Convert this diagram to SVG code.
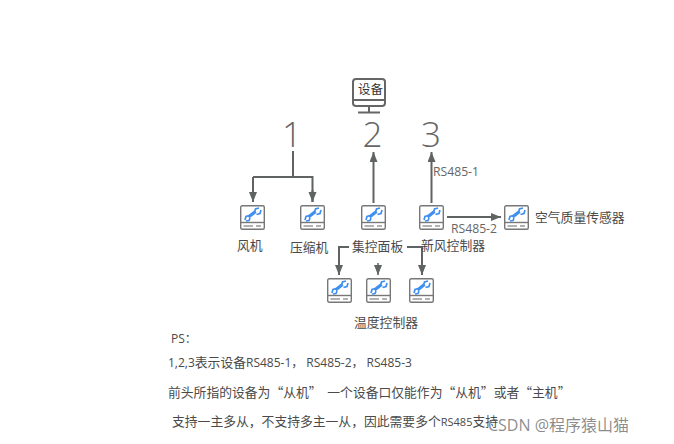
<svg xmlns="http://www.w3.org/2000/svg" width="674" height="444" viewBox="0 0 674 444">
<style>
text{font-family:"Open Sans","Noto Sans CJK SC",sans-serif;fill:#4a4a4a;font-size:12.800px}
.n{font-size:35px;font-weight:300;fill:#666;text-anchor:middle}
.c{fill:none;stroke:#5f6363;stroke-width:2}
.l{font-size:12.200px;fill:#666}
.s{font-size:12px}
.q{font-family:"Noto Sans CJK SC",sans-serif}
</style>
<defs>
<marker id="a" markerUnits="userSpaceOnUse" markerWidth="11" markerHeight="9" refX="10" refY="4" orient="auto"><path d="M0 0L10 4L0 8Z" fill="#5f6363"/></marker>
<g id="dev">
<rect x="0.700" y="0.700" width="23.600" height="23.600" rx="1.500" fill="#fff" stroke="#777" stroke-width="1.400"/>
<path d="M1 17.500H24" stroke="#777" stroke-width="1.400"/>
<path d="M3.500 21H13M16 21H21" stroke="#999" stroke-width="1.400"/>
<path d="M8.500 12L15.500 6.500" stroke="#3f8ff0" stroke-width="3.200"/>
<path d="M14.500 7.500L15.500 4L19 3M16.500 9.500L20 8.500L21 5M9.500 10.500L6 11.500L5 15M10 13L9 15.500L6 16" fill="none" stroke="#3f8ff0" stroke-width="1.700"/>
</g>
</defs>
<rect width="674" height="444" fill="#fff"/>
<g id="monitor">
<rect x="353" y="79" width="32" height="27" rx="3" fill="#fff" stroke="#666" stroke-width="2"/>
<path d="M353 100H385" stroke="#666" stroke-width="2"/>
<path d="M369 106V112M358 112.500H380" stroke="#666" stroke-width="2"/>
<text x="358" y="94" style="fill:#333;font-size:12.500px">设备</text>
</g>
<g id="connectors">
<path class="c" d="M293 151V177M253 177H312.500V202"/>
<path class="c" d="M312.500 190V202" marker-end="url(#a)"/>
<path class="c" d="M253 177V202" marker-end="url(#a)"/>
<path class="c" d="M373.500 203V152" marker-end="url(#a)"/>
<path class="c" d="M431.500 203V152" marker-end="url(#a)"/>
<path class="c" d="M447 217H501" marker-end="url(#a)"/>
<path class="c" d="M349 247H339V275" marker-end="url(#a)"/>
<path class="c" d="M378 263V275" style="stroke-width:1.500" marker-end="url(#a)"/>
<path class="c" d="M407 247H422V275" marker-end="url(#a)"/>
</g>
<g id="labels">
<text class="n" x="292" y="147">1</text>
<text class="n" x="372.500" y="147">2</text>
<text class="n" x="431" y="147">3</text>
<text class="l" x="433" y="176">RS485-1</text>
<text class="l" x="451" y="233">RS485-2</text>
</g>
<g id="fan"><use href="#dev" x="240" y="205"/><text x="237" y="250">风机</text></g>
<g id="compressor"><use href="#dev" x="300" y="205"/><text x="290" y="252">压缩机</text></g>
<g id="panel"><use href="#dev" x="361" y="205"/><text x="352" y="251">集控面板</text></g>
<g id="fresh"><use href="#dev" x="419" y="205"/><text x="421" y="250">新风控制器</text></g>
<g id="air"><use href="#dev" x="504" y="205"/><text x="535" y="222">空气质量传感器</text></g>
<g id="temp1"><use href="#dev" x="327" y="278"/></g>
<g id="temp2"><use href="#dev" x="366" y="278"/></g>
<g id="temp3"><use href="#dev" x="409" y="278"/></g>
<text x="354" y="327">温度控制器</text>
<g id="notes">
<text class="s" x="171" y="343">PS：</text>
<text class="s" x="168" y="367">1,2,3<tspan style="font-size:12.800px">表示设备</tspan>RS485-1，<tspan dx="3">RS485-2</tspan>，<tspan dx="3">RS485-3</tspan></text>
<text class="q" x="168" y="397" xml:space="preserve">前头所指的设备为“从机”  一个设备口仅能作为“从机”或者“主机”</text>
<text x="172" y="426">支持一主多从，不支持多主一从，因此需要多个<tspan style="font-size:11px">RS485</tspan>支持</text>
</g>
<text x="488" y="431" style="font-size:16px;fill:#777;fill-opacity:.85">CSDN @程序猿山猫</text>
</svg>
